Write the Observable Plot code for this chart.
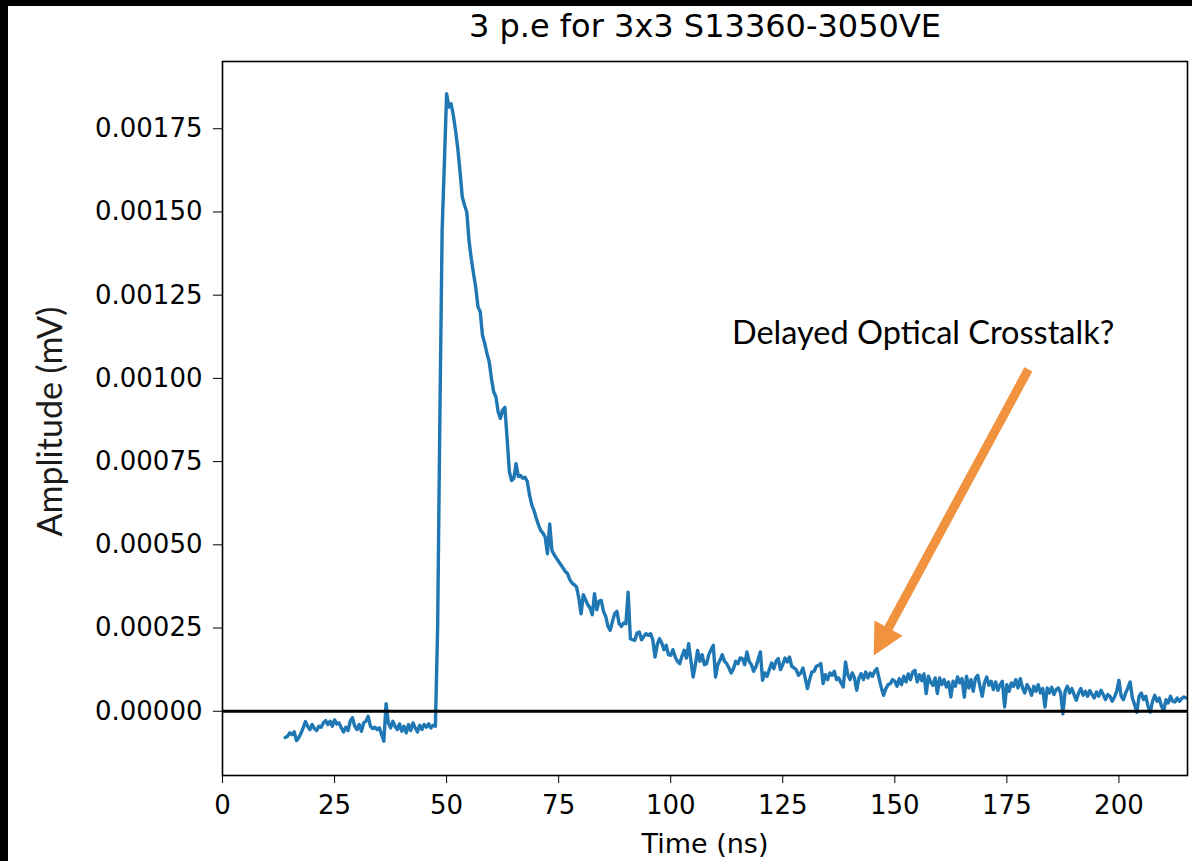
<!DOCTYPE html>
<html><head><meta charset="utf-8">
<script src="https://cdn.jsdelivr.net/npm/d3@7"></script>
<script src="https://cdn.jsdelivr.net/npm/@observablehq/plot@0.6"></script>
<style>
html,body{margin:0;padding:0;background:#fff;}
#wrap{width:1184px;height:855px;border-top:6px solid #000;border-left:8px solid #000;background:#fff;overflow:hidden;}
svg{display:block}
</style></head><body><div id="wrap"></div>
<script>
const title = "3 p.e for 3x3 S13360-3050VE";
const xLabel = "Time (ns)";
const yLabel = "Amplitude (mV)";
const noteText = "Delayed Optical Crosstalk?";
const xTicks = [0, 25, 50, 75, 100, 125, 150, 175, 200];
const yTicks = [0, 0.00025, 0.0005, 0.00075, 0.001, 0.00125, 0.0015, 0.00175];

// waveform sampled every 0.5 ns starting at 14 ns; amplitudes in 1e-6 mV
const tStart = 14.0;
const tStep = 0.5;
const baselineMicro = [
  -79,-75,-65,-70,-62,-88,-80,-66,-50,-31,
  -45,-55,-40,-52,-58,-45,-48,-35,-28,-40,
  -30,-45,-26,-38,-35,-50,-62,-48,-58,-30,
  -19,-45,-55,-40,-60,-35,-30,-15,-45,-52,
  -48,-55,-50,-70,-90,23,-35,-50,-30,-45,
  -55,-38,-60,-45,-65,-40,-58,-35,-50,-62,
  -42,-55,-40,-48,-38,-50,-42,-45
];
const pulseMicro = [
  254,885,1444,1646,1855,1815,1825,1790,1745,1690,
  1620,1545,1520,1500,1414,1360,1315,1274,1215,1200,
  1130,1105,1075,1050,1000,960,945,900,880,905,
  913,820,720,693,700,744,705,708,700,703,
  690,650,620,603,580,560,543,535,523,473,
  563,483,470,460,450,440,430,420,413,395,
  385,380,373,340,293,350,335,320,310,290,
  353,305,330,333,300,285,255,243,270,293,
  300,263,255,265,263,358,218,215,213,235,
  238,215,225,233,228,233,215,163,200,218
];
const tailMicro = [
  205,185,198,170,168,185,163,150,143,165,
  183,160,203,153,103,140,183,150,170,140,
  143,170,185,198,103,140,153,170,150,143,
  130,115,128,150,143,160,158,140,178,150,
  140,120,133,155,178,93,115,105,125,145,
  128,150,158,125,140,160,148,163,135,130,
  125,108,115,130,100,68,95,118,120,135,
  138,143,83,110,95,115,108,120,95,100,
  85,73,148,110,95,115,100,63,100,113,
  95,118,100,115,105,120,128,98,70,48,
  68,80,83,95,90,75,98,80,105,88,
  112,95,118,123,88,110,92,112,53,105,
  88,78,100,53,100,80,95,73,88,43,
  90,75,103,85,98,43,105,70,95,60,
  100,108,75,45,85,103,78,90,65,88,
  63,80,90,13,80,60,85,75,95,70,
  98,70,55,80,68,48,75,60,80,55,
  68,13,70,55,72,50,65,70,55,-8,
  60,75,55,68,50,33,55,68,48,60,
  45,62,50,40,58,45,63,50,35,50,
  45,30,42,60,93,45,35,55,70,88,
  40,20,-3,45,55,35,45,15,-3,30,
  48,30,40,15,2,35,25,45,30,28,
  40,30,38,43,40
];
const amplitudeMicro = [...baselineMicro, ...pulseMicro, ...tailMicro];
const samples = amplitudeMicro.map((v, i) => ({t: tStart + i * tStep, amp: v * 1e-6}));

// annotation (data coordinates)
const arrowTail = {t: 179.8, amp: 0.001027};
const arrowTip = {t: 145.3, amp: 0.0001675};
const notes = [{t: 156.3, amp: 0.001102, text: noteText}];

const W = 1184, H = 855, mL = 214, mR = 5, mT = 55, mB = 86;
const xDomain = [0, 215.3];
const yDomain = [-0.000193, 0.001952];

// build filled arrow polygon in data space (sizes in px)
const kx = (W - mL - mR) / (xDomain[1] - xDomain[0]);
const ky = (H - mT - mB) / (yDomain[1] - yDomain[0]);
const toPx = p => [mL + (p.t - xDomain[0]) * kx, H - mB - (p.amp - yDomain[0]) * ky];
const toData = ([px, py]) => ({t: xDomain[0] + (px - mL) / kx, amp: yDomain[0] + (H - mB - py) / ky});
function arrowPolygon(a, b, shaftHalf, headLen, headHalf) {
  const [x0, y0] = toPx(a), [x1, y1] = toPx(b);
  const L = Math.hypot(x1 - x0, y1 - y0);
  const ux = (x1 - x0) / L, uy = (y1 - y0) / L, nx = -uy, ny = ux;
  const bx = x1 - ux * headLen, by = y1 - uy * headLen;
  const pts = [
    [x0 + nx * shaftHalf, y0 + ny * shaftHalf],
    [bx + nx * shaftHalf, by + ny * shaftHalf],
    [bx + nx * headHalf, by + ny * headHalf],
    [x1, y1],
    [bx - nx * headHalf, by - ny * headHalf],
    [bx - nx * shaftHalf, by - ny * shaftHalf],
    [x0 - nx * shaftHalf, y0 - ny * shaftHalf]
  ];
  return pts.map(toData);
}
const arrowPoly = arrowPolygon(arrowTail, arrowTip, 4.5, 31, 16);

const chart = Plot.plot({
  width: W, height: H,
  marginLeft: mL, marginRight: mR, marginTop: mT, marginBottom: mB,
  style: {fontFamily: "DejaVu Sans", fontSize: "26px", color: "#000", background: "#fff"},
  x: {domain: xDomain, ticks: xTicks, tickSize: 8, tickPadding: 12, label: null},
  y: {domain: yDomain, ticks: yTicks, tickFormat: d3.format(".5f"), tickSize: 9, tickPadding: 11, label: null},
  marks: [
    Plot.line(samples, {x: "t", y: "amp", stroke: "#1f77b4", strokeWidth: 3.4}),
    Plot.ruleY([0], {stroke: "#000", strokeWidth: 3}),
    Plot.frame({stroke: "#000", strokeWidth: 1.6}),
    Plot.line(arrowPoly, {x: "t", y: "amp", fill: "#F0923E", stroke: "none"}),
    Plot.text(notes, {x: "t", y: "amp", text: "text", fontFamily: "Lato", fontSize: 32.5, lineAnchor: "bottom", fill: "#000"}),
    Plot.text([title], {text: d => d, frameAnchor: "top", textAnchor: "middle", dy: -25, lineAnchor: "bottom", fontSize: 32, fill: "#000"}),
    Plot.text([xLabel], {text: d => d, frameAnchor: "bottom", textAnchor: "middle", dy: 77, lineAnchor: "bottom", fontSize: 27, fill: "#000"}),
    Plot.text([yLabel], {text: d => d, frameAnchor: "left", textAnchor: "middle", dx: -171, dy: 3, rotate: -90, fontFamily: "Lato", fontSize: 34, fill: "#1b1b1b"})
  ]
});
document.getElementById("wrap").appendChild(chart);
</script>
</body></html>
